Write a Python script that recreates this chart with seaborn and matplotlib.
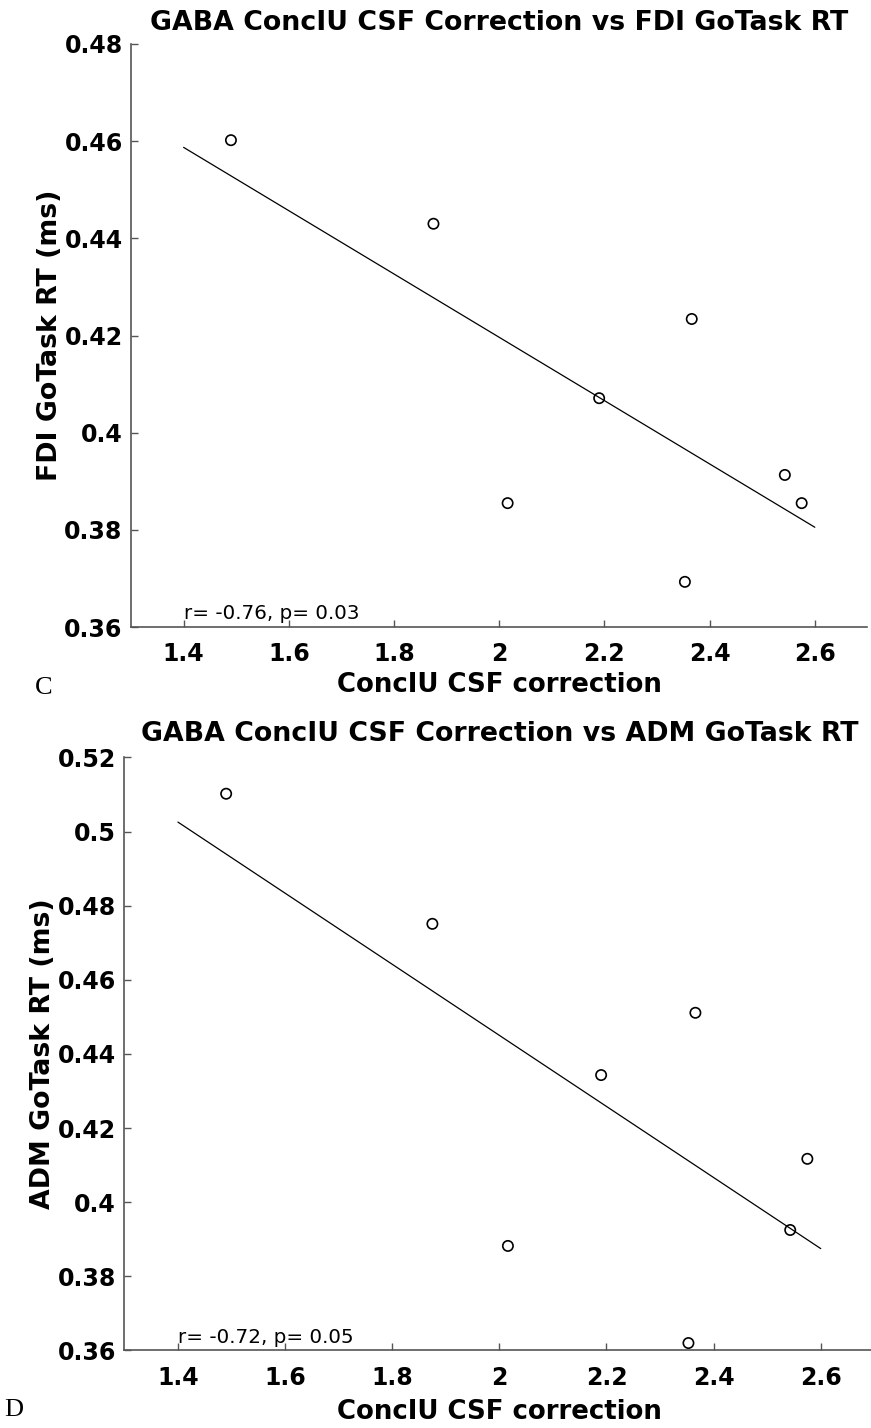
import numpy as np
import pandas as pd
import matplotlib
matplotlib.use("Agg")
import matplotlib.pyplot as plt
import seaborn as sns

sns.set_theme(style="white")
plt.rcParams['font.family'] = ['DejaVu Sans']
plt.rcParams['text.color'] = 'black'
plt.rcParams['axes.labelcolor'] = 'black'

# Data
gaba_csf = [1.49, 1.875, 2.016, 2.19, 2.353, 2.366, 2.543, 2.575]
fdi_rt = [0.4602, 0.4430, 0.3855, 0.4071, 0.3693, 0.4234, 0.3913, 0.3855]
adm_rt = [0.5102, 0.4751, 0.3882, 0.4343, 0.3620, 0.4511, 0.3925, 0.4117]

x_ticks = [1.4, 1.6, 1.8, 2.0, 2.2, 2.4, 2.6]
x_ticklabels = ['1.4', '1.6', '1.8', '2', '2.2', '2.4', '2.6']
c_yticks = [0.36, 0.38, 0.40, 0.42, 0.44, 0.46, 0.48]
c_yticklabels = ['0.36', '0.38', '0.4', '0.42', '0.44', '0.46', '0.48']
d_yticks = [0.36, 0.38, 0.40, 0.42, 0.44, 0.46, 0.48, 0.50, 0.52]
d_yticklabels = ['0.36', '0.38', '0.4', '0.42', '0.44', '0.46', '0.48', '0.5', '0.52']

panels = [
    dict(y=fdi_rt, title='GABA ConcIU CSF Correction vs FDI GoTask RT',
         ylabel='FDI GoTask RT (ms)', stat='r= -0.76, p= 0.03', letter='C',
         ylim=(0.36, 0.48), yticks=c_yticks, yticklabels=c_yticklabels,
         pos=[0.1504, 0.5609, 0.8455, 0.4083], title_pad=10, xlabel_pad=4),
    dict(y=adm_rt, title='GABA ConcIU CSF Correction vs ADM GoTask RT',
         ylabel='ADM GoTask RT (ms)', stat='r= -0.72, p= 0.05', letter='D',
         ylim=(0.36, 0.52), yticks=d_yticks, yticklabels=d_yticklabels,
         pos=[0.1428, 0.0543, 0.861, 0.4153], title_pad=12, xlabel_pad=7),
]

fig = plt.figure(figsize=(8.71, 14.28), dpi=100)
spine_col = '#555555'

for p in panels:
    ax = fig.add_axes(p['pos'])
    df = pd.DataFrame({'x': gaba_csf, 'y': p['y']})
    sns.scatterplot(data=df, x='x', y='y', ax=ax, s=55, facecolor='none',
                    edgecolor='black', linewidth=1.2, zorder=3)
    slope, intercept = np.polyfit(gaba_csf, p['y'], 1)
    xl = np.array([1.4, 2.6])
    ax.plot(xl, slope * xl + intercept, color='black', linewidth=0.9)
    ax.set_xlim(1.3, 2.7)
    ax.set_ylim(*p['ylim'])
    ax.set_xticks(x_ticks)
    ax.set_xticklabels(x_ticklabels)
    ax.set_yticks(p['yticks'])
    ax.set_yticklabels(p['yticklabels'])
    for lab in ax.get_xticklabels() + ax.get_yticklabels():
        lab.set_fontweight('bold')
        lab.set_fontsize(17)
        lab.set_color('black')
    ax.tick_params(direction='in', length=5, width=1, color=spine_col,
                   bottom=True, left=True)
    ax.tick_params(axis='x', pad=11)
    ax.tick_params(axis='y', pad=6)
    for s in ['top', 'right']:
        ax.spines[s].set_visible(False)
    for s in ['left', 'bottom']:
        ax.spines[s].set_color(spine_col)
        ax.spines[s].set_linewidth(1.2)
    ax.set_xlabel('ConcIU CSF correction', fontsize=18.7, fontweight='bold',
                  labelpad=p['xlabel_pad'], color='black')
    ax.set_ylabel(p['ylabel'], fontsize=19.3, fontweight='bold', labelpad=1,
                  color='black')
    ax.set_title(p['title'], fontsize=19.3, fontweight='bold',
                 pad=p['title_pad'], color='black')
    span = p['ylim'][1] - p['ylim'][0]
    ax.text(1.4, p['ylim'][0] + 0.0008 * span / 0.12,
            p['stat'], fontsize=14.3, va='bottom', ha='left', color='black')
    ax.grid(False)
    ax.patch.set_alpha(0)

fig.text(0.04, 1 - 688 / 1428, 'C', fontsize=19, family='Liberation Serif',
         va='center', ha='left', color='black')
fig.text(0.005, 1 - 1410 / 1428, 'D', fontsize=19, family='Liberation Serif',
         va='center', ha='left', color='black')

fig.savefig('out.png', dpi=100)
